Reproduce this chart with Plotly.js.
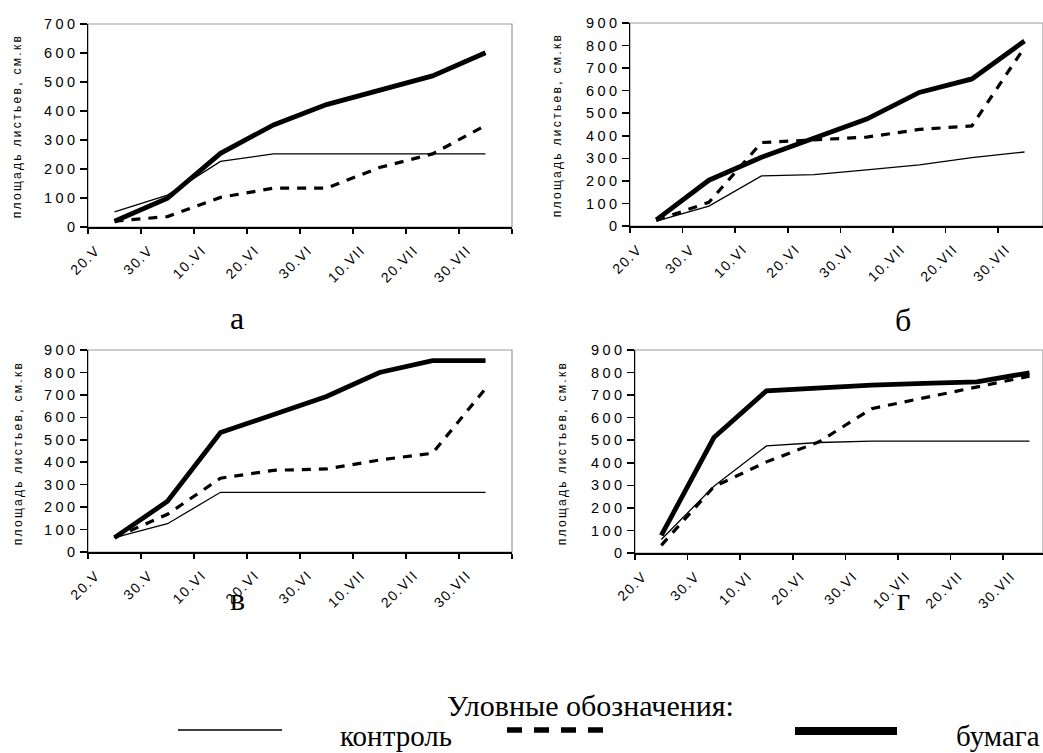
<!DOCTYPE html>
<html><head><meta charset="utf-8">
<script src="https://cdn.plot.ly/plotly-3.0.1.min.js"></script>
<style>
body{margin:0;background:#fff}
#chart{width:1043px;height:753px}
#chart g[class^="y"][class$="tick"] text{letter-spacing:3.5px !important}
#chart g[class^="x"][class$="tick"] text{letter-spacing:1.5px !important}
#chart .ytitle-ann text{letter-spacing:2.3px !important}
</style>
</head><body><div id="chart"></div>
<script>
// Tick labels (dates) on the category axis
const tickLabels = ['20.V','30.V','10.VI','20.VI','30.VI','10.VII','20.VII','30.VII'];
// measurements are taken between the labelled ticks (8 observations)
const nObs = 8;

// Panel а
const a_control = [52, 110, 226, 252, 252, 252, 252, 252];
const a_dashed  = [20, 36, 102, 134, 134, 205, 252, 350];
const a_paper   = [20, 99, 254, 352, 422, 472, 521, 601];
// Panel б
const b_control = [22, 88, 222, 228, 249, 271, 303, 328];
const b_dashed  = [25, 105, 370, 382, 394, 428, 444, 792];
const b_paper   = [27, 203, 305, 390, 474, 592, 652, 820];
// Panel в
const v_control = [64, 126, 266, 266, 266, 266, 266, 266];
const v_dashed  = [64, 168, 329, 364, 370, 410, 440, 728];
const v_paper   = [64, 226, 532, 614, 693, 800, 853, 853];
// Panel г
const g_control = [60, 296, 475, 490, 496, 496, 496, 496];
const g_dashed  = [34, 294, 404, 493, 640, 688, 737, 784];
const g_paper   = [78, 512, 719, 732, 744, 752, 759, 799];

const legendTitle = 'Уловные обозначения:';
const seriesNames = ['контроль', '', 'бумага'];
const panelLetters = ['а', 'б', 'в', 'г'];
const yTitle = 'площадь листьев, см.кв';

const xPos = Array.from({length: nObs}, (_, i) => i + 0.5);

const W = 1043, H = 753;
const px = v => v / W;
const py = v => 1 - v / H;

const styles = [
  {color: '#000', width: 1.3},
  {color: '#000', width: 3.2, dash: '9px,8px'},
  {color: '#000', width: 4.8}
];

const panels = [
  {data: [a_control, a_dashed, a_paper], ymax: 700, x0: 88, x1: 512, y0: 24, y1: 227, xr: 8, tx: 17, ty: 126},
  {data: [b_control, b_dashed, b_paper], ymax: 900, x0: 630, x1: 1043, y0: 23, y1: 226, xr: (1043-630)/52.6, tx: 557, ty: 125},
  {data: [v_control, v_dashed, v_paper], ymax: 900, x0: 88, x1: 512, y0: 350, y1: 552, xr: 8, tx: 18, ty: 453},
  {data: [g_control, g_dashed, g_paper], ymax: 900, x0: 635, x1: 1043, y0: 350, y1: 553, xr: (1043-635)/52.6, tx: 562, ty: 453}
];

const traces = [];
const layout = {
  width: W, height: H,
  margin: {l: 0, r: 0, t: 0, b: 0},
  paper_bgcolor: '#fff', plot_bgcolor: '#fff',
  showlegend: false,
  annotations: [], shapes: []
};

const tickvals = Array.from({length: tickLabels.length + 1}, (_, i) => i);
const ticktext = tickLabels.concat(['']);

panels.forEach((p, k) => {
  const n = k + 1;
  const xa = 'x' + (n === 1 ? '' : n), ya = 'y' + (n === 1 ? '' : n);
  const xk = 'xaxis' + (n === 1 ? '' : n), yk = 'yaxis' + (n === 1 ? '' : n);
  [1, 0, 2].forEach(s => {
    traces.push({
      x: xPos, y: p.data[s], xaxis: xa, yaxis: ya,
      type: 'scatter', mode: 'lines', name: seriesNames[s],
      line: Object.assign({}, styles[s]), hoverinfo: 'skip', cliponaxis: false
    });
  });
  layout[xk] = {
    domain: [px(p.x0), px(p.x1)], anchor: ya, range: [0, p.xr],
    tickmode: 'array', tickvals: tickvals, ticktext: ticktext,
    tickangle: -45, ticks: 'outside', ticklen: 5, tickwidth: 1.5, tickcolor: '#000',
    ticklabelshift: 8, ticklabelstandoff: 3,
    showline: true, linecolor: '#000', linewidth: 1.5,
    showgrid: false, zeroline: false, fixedrange: true,
    tickfont: {family: 'Liberation Sans', size: 14, color: '#000'}
  };
  layout[yk] = {
    domain: [py(p.y1), py(p.y0)], anchor: xa, range: [0, p.ymax],
    tickmode: 'linear', tick0: 0, dtick: 100,
    ticks: 'outside', ticklen: 7, tickwidth: 1.5, tickcolor: '#000',
    ticklabelstandoff: -2,
    showline: true, linecolor: '#000', linewidth: 1.5,
    showgrid: false, zeroline: false, fixedrange: true,
    tickfont: {family: 'Liberation Sans', size: 14.5, color: '#000'}
  };
  layout.shapes.push({type: 'rect', xref: xa + ' domain', yref: ya + ' domain',
    x0: 0, x1: 1, y0: 0, y1: 1, line: {color: '#9a9a9a', width: 1.2}, layer: 'below'});
  layout.annotations.push({
    xref: 'paper', yref: 'paper', x: px(p.tx), y: py(p.ty),
    text: yTitle, textangle: -90, showarrow: false,
    xanchor: 'center', yanchor: 'middle',
    font: {family: 'Liberation Sans', size: 12, color: '#000'}
  });
});

// panel letters
[[237, 318], [903, 320], [237, 599], [903, 599]].forEach((c, i) => {
  layout.annotations.push({xref: 'paper', yref: 'paper', x: px(c[0]), y: py(c[1]),
    text: panelLetters[i], showarrow: false, xanchor: 'center', yanchor: 'middle',
    font: {family: 'Liberation Serif', size: 32, color: '#000'}});
});

// legend
layout.annotations.push({xref: 'paper', yref: 'paper', x: px(590), y: py(705),
  text: legendTitle, showarrow: false, xanchor: 'center', yanchor: 'middle',
  font: {family: 'Liberation Serif', size: 30, color: '#000'}});
layout.annotations.push({xref: 'paper', yref: 'paper', x: px(396), y: py(736),
  text: seriesNames[0], showarrow: false, xanchor: 'center', yanchor: 'middle',
  font: {family: 'Liberation Serif', size: 29, color: '#000'}});
layout.annotations.push({xref: 'paper', yref: 'paper', x: px(1042), y: py(736),
  text: seriesNames[2], showarrow: false, xanchor: 'right', yanchor: 'middle',
  font: {family: 'Liberation Serif', size: 29, color: '#000'}});
const legendLines = [[178, 282, 730, 1.6, 'solid'], [507, 607, 730, 5.5, '15px,12px'], [795, 897, 731, 8, 'solid']];
legendLines.forEach(l => {
  layout.shapes.push({type: 'line', xref: 'paper', yref: 'paper',
    x0: px(l[0]), x1: px(l[1]), y0: py(l[2]), y1: py(l[2]),
    line: {color: '#000', width: l[3], dash: l[4]}});
});

function applySpacing(gd) {
  gd.querySelectorAll('.annotation').forEach(el => {
    const t = el.querySelector('text');
    if (t && t.textContent === yTitle) el.classList.add('ytitle-ann');
  });
}

Plotly.newPlot('chart', traces, layout, {displayModeBar: false, staticPlot: true}).then(gd => {
  applySpacing(gd);
  gd.on('plotly_afterplot', () => applySpacing(gd));
});
</script></body></html>
